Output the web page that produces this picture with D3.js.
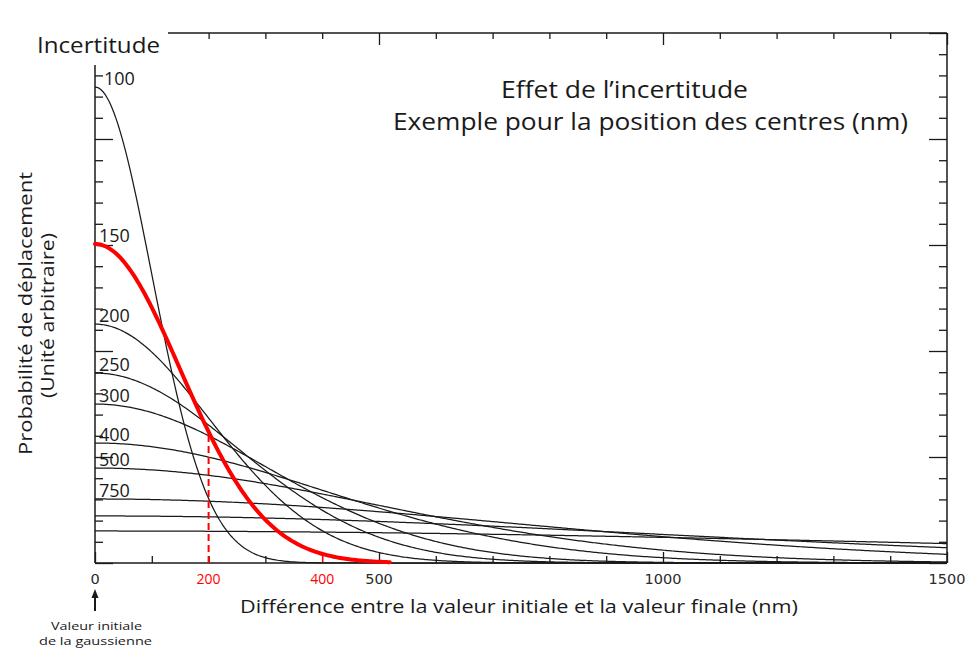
<!DOCTYPE html>
<html>
<head>
<meta charset="utf-8">
<script src="https://cdn.jsdelivr.net/npm/d3@7/dist/d3.min.js"></script>
<style>
  html, body { margin: 0; padding: 0; background: #fff; }
  svg { display: block; font-family: "Open Sans", "Noto Sans", sans-serif; }
</style>
</head>
<body>
<svg id="chart" width="968" height="650"></svg>
<script>
// Incertitudes (nm) des gaussiennes tracées, et hauteur du sommet de chacune (unités arbitraires)
const sigmas = [100, 150, 200, 250, 300, 400, 500, 750, 1000, 1500];
const peaks = [22.45, 15.05, 11.27, 8.96, 7.5, 5.66, 4.48, 3.02, 2.22, 1.51];
const curveLabels = ["100", "150", "200", "250", "300", "400", "500", "750", "", ""];
// Courbe mise en évidence et valeurs repérées sur l'axe horizontal
const highlightedSigma = 150;
const markedValues = [200, 400];
const highlightedEnd = 520;
// Axes
const xTicks = [0, 100, 200, 300, 400, 500, 600, 700, 800, 900, 1000, 1100, 1200, 1300, 1400, 1500];
const xMajorTicks = [0, 500, 1000, 1500];
const xTickLabels = [0, 200, 400, 500, 1000, 1500];
const yTicks = [0, 1, 2, 3, 4, 5, 6, 7, 8, 9, 10, 11, 12, 13, 14, 15, 16, 17, 18, 19, 20, 21, 22, 23, 24, 25];
const yMajorTicks = [0, 5, 10, 15, 20, 25];

const svg = d3.select("#chart");
const mLeft = 95, mRight = 947, mTop = 33, mBottom = 563;
const x = d3.scaleLinear().domain([0, 1500]).range([mLeft, mRight]);
const y = d3.scaleLinear().domain([0, 25]).range([mBottom, mTop]);
const RED = "#ff0000";
const INK = "#1a1a1a";

// Text set at a given size and squeezed to a given run length (condensed look)
function label(sel, size, width) {
  return sel.attr("font-size", size).attr("fill", INK)
    .attr("textLength", width).attr("lengthAdjust", "spacingAndGlyphs");
}

// Frame lines (top axis starts after the "Incertitude" heading, left one below it)
const frame = svg.append("g").attr("stroke", INK).attr("stroke-width", 1.5).attr("fill", "none");
frame.append("line").attr("x1", mLeft).attr("x2", mRight).attr("y1", mBottom).attr("y2", mBottom);
frame.append("line").attr("x1", mRight).attr("x2", mRight).attr("y1", mTop).attr("y2", mBottom);
frame.append("line").attr("x1", 168).attr("x2", mRight).attr("y1", mTop).attr("y2", mTop);
frame.append("line").attr("x1", mLeft).attr("x2", mLeft).attr("y1", 65).attr("y2", mBottom);

function styleAxis(g) {
  g.select(".domain").remove();
  g.selectAll(".tick text").remove();
  g.selectAll(".tick line").attr("stroke", INK).attr("stroke-width", 1.3);
}

// Bottom ticks (pointing up)
const isMajX = v => xMajorTicks.includes(v);
svg.append("g").attr("transform", `translate(0,${mBottom})`)
  .call(d3.axisBottom(x).tickValues(xTicks.filter(v => !isMajX(v))).tickSize(-7)).call(styleAxis)
  .selectAll(".tick line").attr("stroke", d => d === markedValues[1] ? RED : INK)
  .attr("stroke-width", d => d === markedValues[1] ? 1.6 : 1.3);
svg.append("g").attr("transform", `translate(0,${mBottom})`)
  .call(d3.axisBottom(x).tickValues(xTicks.filter(isMajX)).tickSize(-11)).call(styleAxis);
// Top ticks (pointing down), only where the top line is drawn
svg.append("g").attr("transform", `translate(0,${mTop})`)
  .call(d3.axisTop(x).tickValues(xTicks.filter(v => !isMajX(v) && x(v) > 168)).tickSize(-6)).call(styleAxis);
svg.append("g").attr("transform", `translate(0,${mTop})`)
  .call(d3.axisTop(x).tickValues(xTicks.filter(v => isMajX(v) && x(v) > 168)).tickSize(-12)).call(styleAxis);
// Left and right ticks
const isMajY = v => yMajorTicks.includes(v);
svg.append("g").attr("transform", `translate(${mLeft},0)`)
  .call(d3.axisLeft(y).tickValues(yTicks.filter(v => !isMajY(v) && y(v) >= 65)).tickSize(-8)).call(styleAxis);
svg.append("g").attr("transform", `translate(${mLeft},0)`)
  .call(d3.axisLeft(y).tickValues(yTicks.filter(v => isMajY(v) && y(v) >= 65)).tickSize(-18)).call(styleAxis);
svg.append("g").attr("transform", `translate(${mRight},0)`)
  .call(d3.axisRight(y).tickValues(yTicks.filter(v => !isMajY(v))).tickSize(-8)).call(styleAxis);
svg.append("g").attr("transform", `translate(${mRight},0)`)
  .call(d3.axisRight(y).tickValues(yTicks.filter(isMajY)).tickSize(-18)).call(styleAxis);

// Tick labels: marked values in red, the others in a wider face
svg.append("g").selectAll("text").data(xTickLabels).join("text")
  .attr("x", d => x(d)).attr("y", mBottom + 21)
  .attr("text-anchor", "middle")
  .attr("font-family", d => markedValues.includes(d) ? null : "'DejaVu Sans', sans-serif")
  .attr("font-size", d => markedValues.includes(d) ? 14 : 14.5)
  .attr("fill", d => markedValues.includes(d) ? RED : "#2a2a2a")
  .text(d => d);

// Gaussian curves: height at offset d for a given uncertainty
const gauss = (peak, s) => d => peak * Math.exp(-(d * d) / (2 * s * s));
const line = d3.line().x(p => x(p[0])).y(p => y(p[1]));
const sample = (end) => d3.range(0, end + 0.001, 3);

const curves = sigmas.map((s, i) => ({ s, peak: peaks[i], label: curveLabels[i] }));
svg.append("g").attr("fill", "none").attr("stroke", INK).attr("stroke-width", 1.25)
  .selectAll("path").data(curves.filter(c => c.s !== highlightedSigma)).join("path")
  .attr("d", c => line(sample(1500).map(d => [d, gauss(c.peak, c.s)(d)])));

const hi = curves.find(c => c.s === highlightedSigma);
const hiF = gauss(hi.peak, hi.s);
// Dashed red drop line at 200 nm
svg.append("line")
  .attr("x1", x(markedValues[0])).attr("x2", x(markedValues[0]))
  .attr("y1", mBottom).attr("y2", y(hiF(markedValues[0])))
  .attr("stroke", RED).attr("stroke-width", 2).attr("stroke-dasharray", "7,4");
svg.append("path")
  .attr("d", line(sample(highlightedEnd).map(d => [d, hiF(d)])))
  .attr("fill", "none").attr("stroke", RED).attr("stroke-width", 4).attr("stroke-linecap", "round");

// Curve labels just above each peak
svg.append("g").selectAll("text").data(curves.filter(c => c.label)).join("text")
  .attr("x", c => c.s === 100 ? mLeft + 9 : mLeft + 4)
  .attr("y", c => y(c.peak) - 2)
  .attr("font-size", 18).attr("fill", INK)
  .text(c => c.label);

// Headings
label(svg.append("text").attr("x", 37).attr("y", 53), 22, 123).text("Incertitude");
label(svg.append("text").attr("x", 501).attr("y", 98), 23.5, 247).text("Effet de l’incertitude");
label(svg.append("text").attr("x", 393).attr("y", 129.5), 23, 515).text("Exemple pour la position des centres (nm)");

// Axis titles
label(svg.append("text").attr("x", 240).attr("y", 613), 18.5, 558)
  .text("Différence entre la valeur initiale et la valeur finale (nm)");
label(svg.append("text").attr("x", 0).attr("y", 0)
  .attr("transform", "translate(32,455) rotate(-90)"), 19, 283)
  .text("Probabilité de déplacement");
label(svg.append("text").attr("x", 0).attr("y", 0)
  .attr("transform", "translate(54,398) rotate(-90)"), 19, 165)
  .text("(Unité arbitraire)");

// Arrow marking the initial value of the gaussian
svg.append("line").attr("x1", x(0)).attr("x2", x(0)).attr("y1", 611).attr("y2", 596)
  .attr("stroke", INK).attr("stroke-width", 2);
svg.append("path").attr("d", `M${x(0)},589 L${x(0) - 3.5},598 L${x(0) + 3.5},598 Z`).attr("fill", INK);
label(svg.append("text").attr("x", 51).attr("y", 629.5), 11, 91).text("Valeur initiale");
label(svg.append("text").attr("x", 39).attr("y", 645), 11, 113).text("de la gaussienne");
</script>
</body>
</html>
